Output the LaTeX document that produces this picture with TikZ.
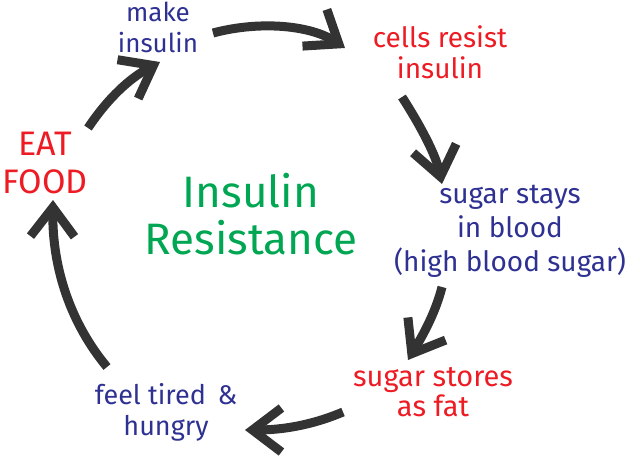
\documentclass[tikz,border=0pt]{standalone}
\usepackage{fontspec}
\setmainfont{Fira Sans}
\usetikzlibrary{arrows.meta}
\definecolor{hblue}{HTML}{2E3192}
\definecolor{hred}{HTML}{ED1C24}
\definecolor{hgreen}{HTML}{00A651}
\definecolor{hgray}{HTML}{333333}
\tikzset{
  lbl/.style={align=center, inner sep=0pt, font=\fontsize{26}{31}\selectfont},
  bluetxt/.style={lbl, text=hblue},
  redtxt/.style={lbl, text=hred},
  arr/.style={draw=hgray, line width=9pt, line cap=butt,
    -{Straight Barb[length=29pt,width=44pt,line width=9pt]}}
}
\begin{document}
\begin{tikzpicture}[x=1pt,y=-1pt]
\useasboundingbox (0,0) rectangle (640,457);
\node[bluetxt] (make) at (158,27) {make\\insulin};
\node[redtxt, font=\fontsize{28}{31}\selectfont] (cells) at (440,52) {cells resist\\insulin};
\node[bluetxt, font=\fontsize{28}{34}\selectfont] (stays) at (510,231) {sugar stays\\in blood\\(high blood sugar)};
\node[redtxt, font=\fontsize{29}{30}\selectfont] (stores) at (433,392) {sugar stores\\as fat};
\node[bluetxt, font=\fontsize{27}{31}\selectfont] (tired) at (166,412) {feel tired \,\&\\hungry};
\node[redtxt, font=\fontsize{34}{38}\selectfont] (eat) at (45,163) {EAT\\FOOD};
\node[lbl, text=hgreen, font=\fontsize{44}{47}\selectfont] (title) at (251,214) {Insulin\\Resistance};
\coordinate (a1s) at (88,128);   \coordinate (a1e) at (160,62);
\coordinate (a2s) at (213,33);   \coordinate (a2e) at (345,48);
\coordinate (a3s) at (402,97);   \coordinate (a3e) at (442,184);
\coordinate (a4s) at (442,287);  \coordinate (a4e) at (408,360);
\coordinate (a5s) at (343,412);  \coordinate (a5e) at (245,430);
\coordinate (a6s) at (107,367);  \coordinate (a6e) at (53,200);
\draw[arr] (a1s) .. controls (108,98) and (130,78) .. (a1e);
\draw[arr] (a2s) .. controls (262,20) and (312,26) .. (a2e);
\draw[arr] (a3s) .. controls (420,125) and (436,155) .. (a3e);
\draw[arr] (a4s) .. controls (435,315) and (420,340) .. (a4e);
\draw[arr] (a5s) .. controls (310,426) and (280,430) .. (a5e);
\draw[arr] (a6s) .. controls (72,325) and (52,270) .. (a6e);
\end{tikzpicture}
\end{document}
